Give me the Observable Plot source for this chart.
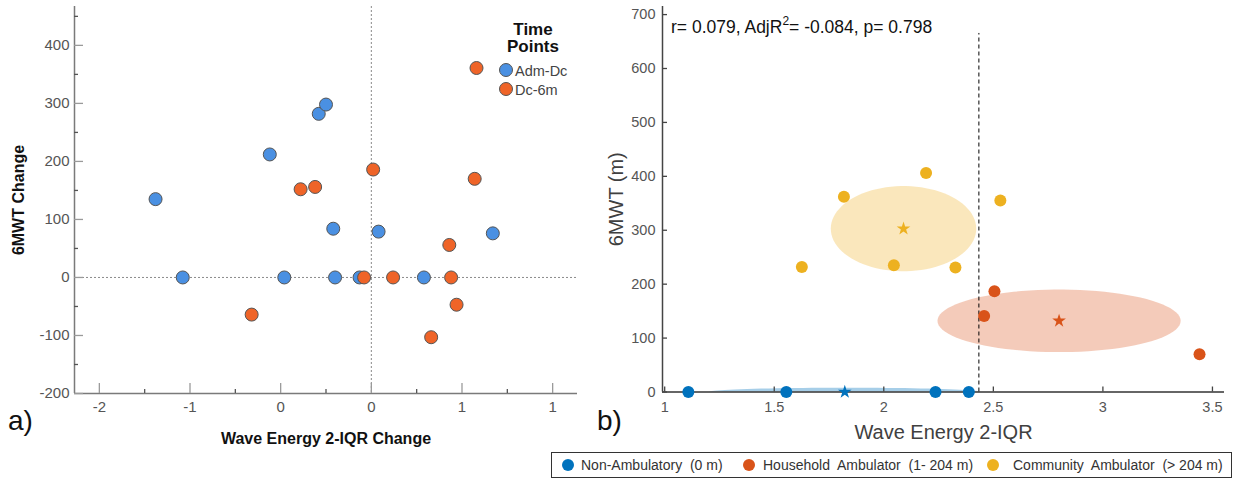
<!DOCTYPE html>
<html><head><meta charset="utf-8">
<script src="https://cdn.jsdelivr.net/npm/d3@7"></script>
<script src="https://cdn.jsdelivr.net/npm/@observablehq/plot@0.6"></script>
<style>
body{margin:0;background:#fff;font-family:"Liberation Sans",Arial,sans-serif;}
#wrap{position:relative;width:1236px;height:479px;overflow:hidden;background:#fff;}
.abs{position:absolute;white-space:pre;}
</style></head><body><div id="wrap"></div>
<script>
// ---------- Panel a) data ----------
const seriesA = ["Adm-Dc", "Dc-6m"];
const colorsA = ["#4a90e2", "#ef6428"];
const admDcX = [-1.19, -1.04, -0.56, -0.48, -0.29, -0.25, -0.21, -0.20, -0.065, 0.04, 0.29, 0.67];
const admDcY = [135, 0, 212, 0, 282, 298, 84, 0, 0, 79, 0, 76];
const dc6mX = [-0.66, -0.39, -0.31, -0.04, 0.01, 0.12, 0.43, 0.44, 0.47, 0.33, 0.57, 0.58];
const dc6mY = [-64, 152, 156, 0, 186, 0, 56, 0, -47, -103, 170, 361];
const xTicksA = [-1.5, -1, -0.5, 0, 0.5, 1];
const xTickLabelsA = ["-2", "-1", "0", "0", "1", "1"];
const xMinorA = [-1.25, -0.75, -0.25, 0.25, 0.75];
const yTicksA = [-200, -100, 0, 100, 200, 300, 400];
const yMinorA = [-150, -50, 50, 150, 250, 350, 450];
const xDomA = [-1.637, 1.137];
const yDomA = [-200, 467];

// ---------- Panel b) data ----------
const groupsB = ["Non-Ambulatory  (0 m)", "Household  Ambulator  (1- 204 m)", "Community  Ambulator  (> 204 m)"];
const colorsB = ["#0072bd", "#d95319", "#edb120"];
const nonAmbX = [1.108, 1.555, 2.236, 2.388];
const nonAmbY = [0, 0, 0, 0];
const householdX = [2.458, 2.505, 3.441];
const householdY = [141, 187, 70];
const communityX = [1.626, 1.818, 2.046, 2.193, 2.327, 2.532];
const communityY = [232, 362, 235, 406, 231, 355];
const starX = [1.822, 2.80, 2.090];
const starY = [0, 132, 303];
const ellipseRx = [0.62, 0.555, 0.332];
const ellipseRy = [8, 58, 79];
const thresholdX = 2.434;
const thresholdTop = 665;
const xTicksB = [1, 1.5, 2, 2.5, 3, 3.5];
const yTicksB = [0, 100, 200, 300, 400, 500, 600, 700];
const xDomB = [0.99, 3.555];
const yDomB = [0, 715];

const FONT = "'Liberation Sans', Arial, sans-serif";
const wrap = document.getElementById("wrap");

// ---------- Plot a ----------
const WA = 600, HA = 455, mlA = 74, mrA = 23, mtA = 6, mbA = 62;
const fwA = WA - mlA - mrA, fhA = HA - mtA - mbA;
const ptsA = [
  ...admDcX.map((x, i) => ({x, y: admDcY[i], s: seriesA[0]})),
  ...dc6mX.map((x, i) => ({x, y: dc6mY[i], s: seriesA[1]}))
];
const plotA = Plot.plot({
  width: WA, height: HA, marginLeft: mlA, marginRight: mrA, marginTop: mtA, marginBottom: mbA,
  x: {domain: xDomA}, y: {domain: yDomA},
  color: {domain: seriesA, range: colorsA},
  style: {fontFamily: FONT, fontSize: "15px", background: "transparent", overflow: "visible"},
  marks: [
    Plot.ruleY([0], {stroke: "#8a8a8a", strokeDasharray: "2,2"}),
    Plot.ruleX([0], {stroke: "#8a8a8a", strokeDasharray: "2,2"}),
    Plot.ruleX([xDomA[0]], {stroke: "#7a7a7a", strokeWidth: 1.5}),
    Plot.ruleY([yDomA[0]], {stroke: "#7a7a7a", strokeWidth: 1.5}),
    Plot.ruleX(xTicksA, {insetTop: fhA - 10, stroke: "#9a9a9a", strokeWidth: 1.3}),
    Plot.ruleX(xMinorA, {insetTop: fhA - 4, stroke: "#555", strokeWidth: 1.3}),
    Plot.ruleY(yTicksA, {insetRight: fwA - 9, stroke: "#9a9a9a", strokeWidth: 1.3}),
    Plot.ruleY(yMinorA, {insetRight: fwA - 4, stroke: "#555", strokeWidth: 1.3}),
    Plot.axisX(xTicksA, {tickSize: 0, tickPadding: 8, label: null, fill: "#555",
      tickFormat: d => xTickLabelsA[xTicksA.indexOf(d)]}),
    Plot.axisY(yTicksA, {tickSize: 0, tickPadding: 5, label: null, fill: "#555",
      tickFormat: d => String(d)}),
    Plot.text(["Wave Energy 2-IQR Change"], {frameAnchor: "bottom", lineAnchor: "middle", textAnchor: "middle", dy: 45, fontWeight: "bold", fontSize: 16, fill: "#111"}),
    Plot.text(["6MWT Change"], {frameAnchor: "left", lineAnchor: "middle", textAnchor: "middle", dx: -56, rotate: -90, fontWeight: "bold", fontSize: 16, fill: "#111"}),
    Plot.dot(ptsA, {x: "x", y: "y", fill: "s", stroke: "#555", strokeWidth: 1, r: 6.5})
  ]
});
plotA.style.position = "absolute"; plotA.style.left = "0px"; plotA.style.top = "0px";
wrap.appendChild(plotA);

// ---------- Plot b ----------
const WB = 636, HB = 450, mlB = 62, mrB = 12, mtB = 6, mbB = 58.5;
const fwB = WB - mlB - mrB, fhB = HB - mtB - mbB;
const ptsB = [
  ...nonAmbX.map((x, i) => ({x, y: nonAmbY[i], g: groupsB[0]})),
  ...householdX.map((x, i) => ({x, y: householdY[i], g: groupsB[1]})),
  ...communityX.map((x, i) => ({x, y: communityY[i], g: groupsB[2]}))
];
const starsB = starX.map((x, i) => ({x, y: starY[i], g: groupsB[i]}));
const ellipseMarks = groupsB.map((g, i) => {
  const outline = d3.range(0, 361, 4).map(a => ({
    x: starX[i] + ellipseRx[i] * Math.cos(a * Math.PI / 180),
    y: starY[i] + ellipseRy[i] * Math.sin(a * Math.PI / 180)
  }));
  return Plot.line(outline, {x: "x", y: "y", fill: colorsB[i], fillOpacity: i === 0 ? 0.35 : 0.3, stroke: "none", clip: true, curve: "linear-closed"});
});
const plotB = Plot.plot({
  width: WB, height: HB, marginLeft: mlB, marginRight: mrB, marginTop: mtB, marginBottom: mbB,
  x: {domain: xDomB}, y: {domain: yDomB},
  color: {domain: groupsB, range: colorsB},
  style: {fontFamily: FONT, fontSize: "14.5px", background: "transparent", overflow: "visible"},
  marks: [
    ...ellipseMarks,
    Plot.ruleX([thresholdX], {y1: 0, y2: thresholdTop, stroke: "#000", strokeDasharray: "4,3"}),
    Plot.ruleX([xDomB[0]], {stroke: "#444", strokeWidth: 1.5}),
    Plot.ruleY([yDomB[0]], {stroke: "#333", strokeWidth: 1.5}),
    Plot.ruleX(xTicksB, {insetTop: fhB - 5, stroke: "#444", strokeWidth: 1.3}),
    Plot.ruleY(yTicksB, {insetRight: fwB - 5, stroke: "#444", strokeWidth: 1.3}),
    Plot.axisX(xTicksB, {tickSize: 0, tickPadding: 10, label: null, fill: "#555", tickFormat: d => String(d)}),
    Plot.axisY(yTicksB, {tickSize: 0, tickPadding: 7, label: null, fill: "#555", tickFormat: d => String(d)}),
    Plot.text(["Wave Energy 2-IQR"], {frameAnchor: "bottom", lineAnchor: "middle", textAnchor: "middle", dy: 40.5, fontSize: 20, fill: "#404040"}),
    Plot.text(["6MWT (m)"], {frameAnchor: "left", lineAnchor: "middle", textAnchor: "middle", dx: -46, rotate: -90, fontSize: 20, fill: "#404040"}),
    Plot.dot(ptsB, {x: "x", y: "y", fill: "g", stroke: "none", r: 6}),
    Plot.dot(starsB, {x: "x", y: "y", fill: "g", symbol: "star", r: 4.3, stroke: "none"})
  ]
});
plotB.style.position = "absolute"; plotB.style.left = "600px"; plotB.style.top = "0px";
wrap.appendChild(plotB);

// ---------- overlays ----------
function addDiv(html, css) {
  const d = document.createElement("div");
  d.className = "abs";
  d.innerHTML = html;
  Object.assign(d.style, css);
  wrap.appendChild(d);
  return d;
}
addDiv("a)", {left: "8px", top: "407px", fontSize: "28px", lineHeight: "28px", color: "#111"});
addDiv("b)", {left: "597px", top: "407px", fontSize: "28px", lineHeight: "28px", color: "#111"});

// panel a legend
addDiv("Time\nPoints", {left: "483px", top: "21px", width: "100px", textAlign: "center", fontWeight: "bold", fontSize: "17px", lineHeight: "17px", color: "#111"});
seriesA.forEach((s, i) => {
  const cy = 70 + i * 19;
  addDiv(`<svg width="16" height="16"><circle cx="8" cy="8" r="6.5" fill="${colorsA[i]}" stroke="#555" stroke-width="1"/></svg>`,
    {left: "498px", top: (cy - 8) + "px", lineHeight: "0"});
  addDiv(s, {left: "515px", top: (cy - 7) + "px", fontSize: "14.5px", lineHeight: "16px", color: "#444"});
});

// annotation
addDiv('r= 0.079, AdjR<span style="font-size:12px;position:relative;top:-8px">2</span>= -0.084, p= 0.798',
  {left: "671px", top: "18px", fontSize: "17.5px", lineHeight: "18px", color: "#111"});

// bottom legend
const box = addDiv("", {left: "551px", top: "452px", width: "681px", height: "26px", border: "1px solid #333", boxSizing: "border-box", background: "#fff"});
const dotXs = [16, 197, 441];
const txtXs = [29, 211, 461];
groupsB.forEach((g, i) => {
  const dd = document.createElement("div");
  dd.className = "abs";
  dd.style.left = (dotXs[i] - 7) + "px"; dd.style.top = "5px"; dd.style.lineHeight = "0";
  dd.innerHTML = `<svg width="14" height="14"><circle cx="7" cy="7" r="6" fill="${colorsB[i]}"/></svg>`;
  box.appendChild(dd);
  const t = document.createElement("div");
  t.className = "abs";
  t.textContent = g;
  Object.assign(t.style, {left: txtXs[i] + "px", top: "4px", fontSize: "14px", lineHeight: "16px", color: "#333"});
  box.appendChild(t);
});
</script></body></html>
